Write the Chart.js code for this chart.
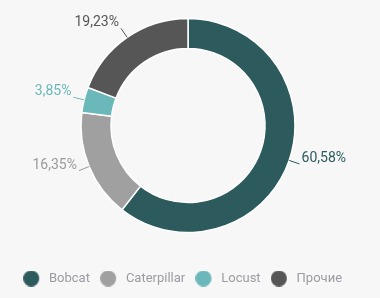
<!DOCTYPE html>
<html>
<head>
<meta charset="utf-8">
<script src="https://cdn.jsdelivr.net/npm/chart.js@4"></script>
<style>
  html, body { margin: 0; padding: 0; background: #f7f7f7; }
  #wrap { width: 380px; height: 298px; }
</style>
</head>
<body>
<div id="wrap"><canvas id="myChart"></canvas></div>
<script>
'use strict'

const brands = ['Bobcat', 'Caterpillar', 'Locust', 'Прочие']
const shares = [60.58, 16.35, 3.85, 19.23]
const colors = ['#2c5a5d', '#a0a0a0', '#6bb8ba', '#565656']
const labelColors = ['#2c5a5d', '#9a9a9a', '#6bb8ba', '#565656']

const fontName = "'Roboto', sans-serif"

// legend dot, drawn left of the box centre so the text sits further away
const makeDot = (color) => {
  const c = document.createElement('canvas')
  c.width = 30
  c.height = 16
  const g = c.getContext('2d')
  g.fillStyle = color
  g.beginPath()
  g.arc(8, 8, 8, 0, Math.PI * 2)
  g.fill()
  return c
}
const dots = colors.map(makeDot)

const outLabels = {
  id: 'outLabels',
  afterDatasetsDraw(chart) {
    const ctx = chart.ctx
    const meta = chart.getDatasetMeta(0)
    ctx.save()
    ctx.font = '14px ' + fontName
    meta.data.forEach((arc, i) => {
      const p = arc.getProps(['x', 'y', 'startAngle', 'endAngle', 'outerRadius'])
      const mid = (p.startAngle + p.endAngle) / 2
      const cos = Math.cos(mid)
      const sin = Math.sin(mid)
      const x1 = p.x + cos * p.outerRadius
      const y1 = p.y + sin * p.outerRadius
      const x2 = p.x + cos * (p.outerRadius + 11)
      const y2 = p.y + sin * (p.outerRadius + 11)
      ctx.strokeStyle = labelColors[i]
      ctx.lineWidth = 1
      ctx.beginPath()
      ctx.moveTo(x1, y1)
      ctx.lineTo(x2, y2)
      ctx.stroke()
      const txt = shares[i].toFixed(2).replace('.', ',') + '%'
      ctx.fillStyle = labelColors[i]
      ctx.textBaseline = 'alphabetic'
      if (cos >= 0) {
        ctx.textAlign = 'left'
        ctx.fillText(txt, x2 + 2, y2 - 2)
      } else {
        ctx.textAlign = 'right'
        ctx.fillText(txt, x2 - 2, y2 - 2)
      }
    })
    ctx.restore()
  }
}

const ctx = document.getElementById('myChart')

const myChart = new Chart(ctx, {
  type: 'doughnut',
  data: {
    labels: brands,
    datasets: [{
      data: shares,
      backgroundColor: colors,
      borderColor: '#ffffff',
      borderWidth: 1.5,
      hoverOffset: 0,
      radius: 107
    }]
  },
  options: {
    responsive: true,
    maintainAspectRatio: false,
    animation: false,
    cutout: '72%',
    layout: {
      padding: { top: 0, bottom: 3, left: 0, right: 4 }
    },
    plugins: {
      tooltip: { enabled: false },
      legend: {
        position: 'bottom',
        labels: {
          usePointStyle: true,
          boxWidth: 8.5,
          boxHeight: 13,
          padding: 21,
          color: '#9c9ba3',
          font: { family: fontName, size: 13 },
          generateLabels: (chart) => {
            const items = Chart.overrides.doughnut.plugins.legend.labels.generateLabels(chart)
            items.forEach((it, i) => { it.pointStyle = dots[i] })
            return items
          }
        }
      }
    }
  },
  plugins: [outLabels]
})
</script>
</body>
</html>
